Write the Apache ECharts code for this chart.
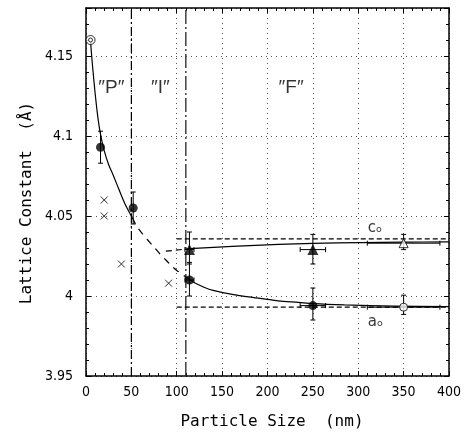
<!DOCTYPE html>
<html>
<head>
<meta charset="utf-8">
<script src="https://cdn.jsdelivr.net/npm/echarts@6/dist/echarts.min.js"></script>
<style>
  html, body { margin: 0; padding: 0; background: #fff; }
  #chart { width: 464px; height: 434px; }
</style>
</head>
<body>
<div id="chart"></div>
<script>
// points: [particle size (nm), lattice constant (Å)]
const bulkPoint = [[5, 4.160]];
const aFilled = [[16, 4.093], [52, 4.055], [114, 4.010], [250, 3.994]];
const aOpen = [[350, 3.993]];
const cFilled = [[114, 4.029], [250, 4.029]];
const cOpen = [[350, 4.033]];
const crosses = [[20, 4.060], [20, 4.050], [39, 4.020], [91, 4.008]];

// error bars: [x, y, yLow, yHigh, xLow, xHigh]
const aErrors = [
    [16, 4.093, 4.083, 4.103, 16, 16],
    [52, 4.055, 4.045, 4.065, 52, 52],
    [114, 4.010, 4.000, 4.021, 109, 119],
    [250, 3.994, 3.985, 4.005, 236, 264],
    [350, 3.993, 3.9885, 4.0005, 310, 390]
];
const cErrors = [
    [114, 4.029, 4.020, 4.040, 109, 119],
    [250, 4.029, 4.020, 4.0385, 236, 264],
    [350, 4.033, 4.029, 4.0385, 310, 390]
];

// fitted curves
const aCurveLeft = [[5, 4.159], [7, 4.145], [10, 4.127], [13, 4.112], [16, 4.101], [20, 4.091],
    [25, 4.082], [30, 4.0755], [36, 4.067], [43, 4.0575], [51, 4.049]];
const aCurveMid = [[51, 4.049], [56, 4.0435], [62, 4.039], [68, 4.035], [75, 4.0305], [82, 4.026],
    [88, 4.0225], [94, 4.019], [100, 4.016], [114, 4.0104]];
const aCurveRight = [[114, 4.0104], [119, 4.0084], [130, 4.0055], [140, 4.0035], [161, 4.001], [185, 3.999],
    [212, 3.997], [234, 3.996], [250, 3.9952], [285, 3.9944], [340, 3.9937], [400, 3.9933]];
const cCurveLeft = [[88, 4.028], [114, 4.0296]];
const cCurveRight = [[114, 4.0296], [161, 4.031], [212, 4.0323], [250, 4.0329], [303, 4.0334], [350, 4.0337], [400, 4.0338]];

// bulk reference levels
const cBulk = [[100, 4.0357], [400, 4.0357]];
const aBulk = [[100, 3.993], [400, 3.993]];

// region boundaries
const boundaryPI = [[50, 3.95], [50, 4.18]];
const boundaryIF = [[110, 3.95], [110, 4.18]];

const regionLabels = [['″P″', 28, 4.13], ['″I″', 82, 4.13], ['″F″', 226, 4.13]];
const latticeLabels = [['cₒ', 310.5, 4.0426], ['aₒ', 310.5, 3.9839]];

const xTicks = { min: 0, max: 400, interval: 50 };
const yTicks = { min: 3.95, max: 4.18, interval: 0.05 };

const tickFont = "'Liberation Sans Narrow', 'DejaVu Sans Condensed', 'Liberation Sans', sans-serif";
const titleFont = "'DejaVu Sans Mono', monospace";

function renderErrors(params, api) {
    const x = api.value(0), y = api.value(1);
    const top = api.coord([x, api.value(3)]);
    const bottom = api.coord([x, api.value(2)]);
    const left = api.coord([api.value(4), y]);
    const right = api.coord([api.value(5), y]);
    const st = { stroke: '#000', lineWidth: 1 };
    const cap = 2.5;
    const children = [
        { type: 'line', shape: { x1: top[0], y1: top[1], x2: bottom[0], y2: bottom[1] }, style: st },
        { type: 'line', shape: { x1: top[0] - cap, y1: top[1], x2: top[0] + cap, y2: top[1] }, style: st },
        { type: 'line', shape: { x1: bottom[0] - cap, y1: bottom[1], x2: bottom[0] + cap, y2: bottom[1] }, style: st }
    ];
    if (right[0] - left[0] > 1) {
        children.push(
            { type: 'line', shape: { x1: left[0], y1: left[1], x2: right[0], y2: right[1] }, style: st },
            { type: 'line', shape: { x1: left[0], y1: left[1] - cap, x2: left[0], y2: left[1] + cap }, style: st },
            { type: 'line', shape: { x1: right[0], y1: right[1] - cap, x2: right[0], y2: right[1] + cap }, style: st }
        );
    }
    return { type: 'group', children: children };
}

function lineSeries(data, type, smooth) {
    return {
        type: 'line', data: data, symbol: 'none', smooth: smooth || false,
        lineStyle: { color: '#000', width: 1.2, type: type || 'solid' },
        silent: true, animation: false, z: 3
    };
}

function axisCommon(pos, showLabel) {
    return {
        type: 'value', position: pos,
        axisLine: { show: true, onZero: false, lineStyle: { color: '#000', width: 1.5 } },
        axisTick: { show: true, inside: true, length: 5, lineStyle: { color: '#000' } },
        minorTick: { show: true, splitNumber: 5, length: 3, lineStyle: { color: '#000' } },
        axisLabel: { show: showLabel, color: '#000', fontSize: 14, fontFamily: tickFont },
        splitLine: { show: false }
    };
}

const gridDots = { show: true, lineStyle: { color: '#555', type: [1, 4], width: 1 } };

const chart = echarts.init(document.getElementById('chart'));

const xBottom = Object.assign(axisCommon('bottom', true), xTicks);
xBottom.axisLabel.margin = 9;
xBottom.splitLine = gridDots;
const xTop = Object.assign(axisCommon('top', false), xTicks);

const yLeft = Object.assign(axisCommon('left', true), yTicks);
yLeft.axisLabel.margin = 13;
yLeft.axisLabel.showMaxLabel = false;
yLeft.splitLine = gridDots;
const yRight = Object.assign(axisCommon('right', false), yTicks);

chart.setOption({
    backgroundColor: '#fff',
    animation: false,
    grid: { left: 86, right: 12, top: 8, bottom: 58 },
    xAxis: [xBottom, xTop],
    yAxis: [yLeft, yRight],
    graphic: [
        {
            type: 'text', x: 272, y: 422,
            style: { text: 'Particle Size  (nm)', fill: '#000', font: '16px ' + titleFont, textAlign: 'center', textVerticalAlign: 'middle' }
        },
        {
            type: 'text', x: 27, y: 203, rotation: Math.PI / 2,
            style: { text: 'Lattice Constant  (Å)', fill: '#000', font: '16px ' + titleFont, textAlign: 'center', textVerticalAlign: 'middle' }
        }
    ],
    series: [
        lineSeries(boundaryPI, [9, 3, 2, 3]),
        Object.assign(lineSeries(boundaryIF, [14, 3, 2, 3]), { lineStyle: { color: '#333', width: 1.4, type: [14, 3, 2, 3] } }),
        lineSeries(cBulk, [5, 3]),
        lineSeries(aBulk, [5, 3]),
        lineSeries(aCurveLeft, 'solid', 0.3),
        lineSeries(aCurveMid, [7, 6], 0.3),
        lineSeries(aCurveRight, 'solid', 0.3),
        lineSeries(cCurveLeft, [6, 4]),
        lineSeries(cCurveRight, 'solid', 0.3),
        {
            type: 'custom', renderItem: renderErrors, data: aErrors, silent: true, z: 4,
            encode: { x: 0, y: 1 }
        },
        {
            type: 'custom', renderItem: renderErrors, data: cErrors, silent: true, z: 4,
            encode: { x: 0, y: 1 }
        },
        {
            type: 'scatter', data: aFilled, symbol: 'circle', symbolSize: 9,
            itemStyle: { color: '#000' }, z: 5
        },
        {
            type: 'scatter', data: aOpen, symbol: 'circle', symbolSize: 8,
            itemStyle: { color: '#fff', borderColor: '#000', borderWidth: 1 }, z: 5
        },
        {
            type: 'scatter', data: cFilled, symbol: 'triangle', symbolSize: 11,
            itemStyle: { color: '#000' }, z: 5
        },
        {
            type: 'scatter', data: cOpen, symbol: 'triangle', symbolSize: 9,
            itemStyle: { color: '#fff', borderColor: '#000', borderWidth: 1 }, z: 5
        },
        {
            type: 'scatter', data: crosses, symbol: 'path://M0,0L10,10M10,0L0,10', symbolSize: 7,
            itemStyle: { color: 'none', borderColor: '#000', borderWidth: 1 }, z: 5
        },
        {
            type: 'scatter', data: bulkPoint, symbol: 'circle', symbolSize: 9,
            itemStyle: { color: '#fff', borderColor: '#000', borderWidth: 1 }, z: 5
        },
        {
            type: 'scatter', data: bulkPoint, symbol: 'circle', symbolSize: 4,
            itemStyle: { color: '#fff', borderColor: '#000', borderWidth: 1 }, z: 6
        },
        {
            type: 'scatter', symbolSize: 0, silent: true, z: 7,
            data: regionLabels.map(d => ({ value: [d[1], d[2]], name: d[0] })),
            label: {
                show: true, position: 'inside', formatter: p => p.name,
                color: '#000', fontSize: 19, fontFamily: "'Liberation Sans', sans-serif"
            }
        },
        {
            type: 'scatter', symbolSize: 0, silent: true, z: 7,
            data: latticeLabels.map(d => ({ value: [d[1], d[2]], name: d[0] })),
            label: {
                show: true, position: 'right', distance: 0, formatter: p => p.name,
                color: '#000', fontSize: 15, fontFamily: "'DejaVu Sans', sans-serif"
            }
        }
    ]
});
</script>
</body>
</html>
